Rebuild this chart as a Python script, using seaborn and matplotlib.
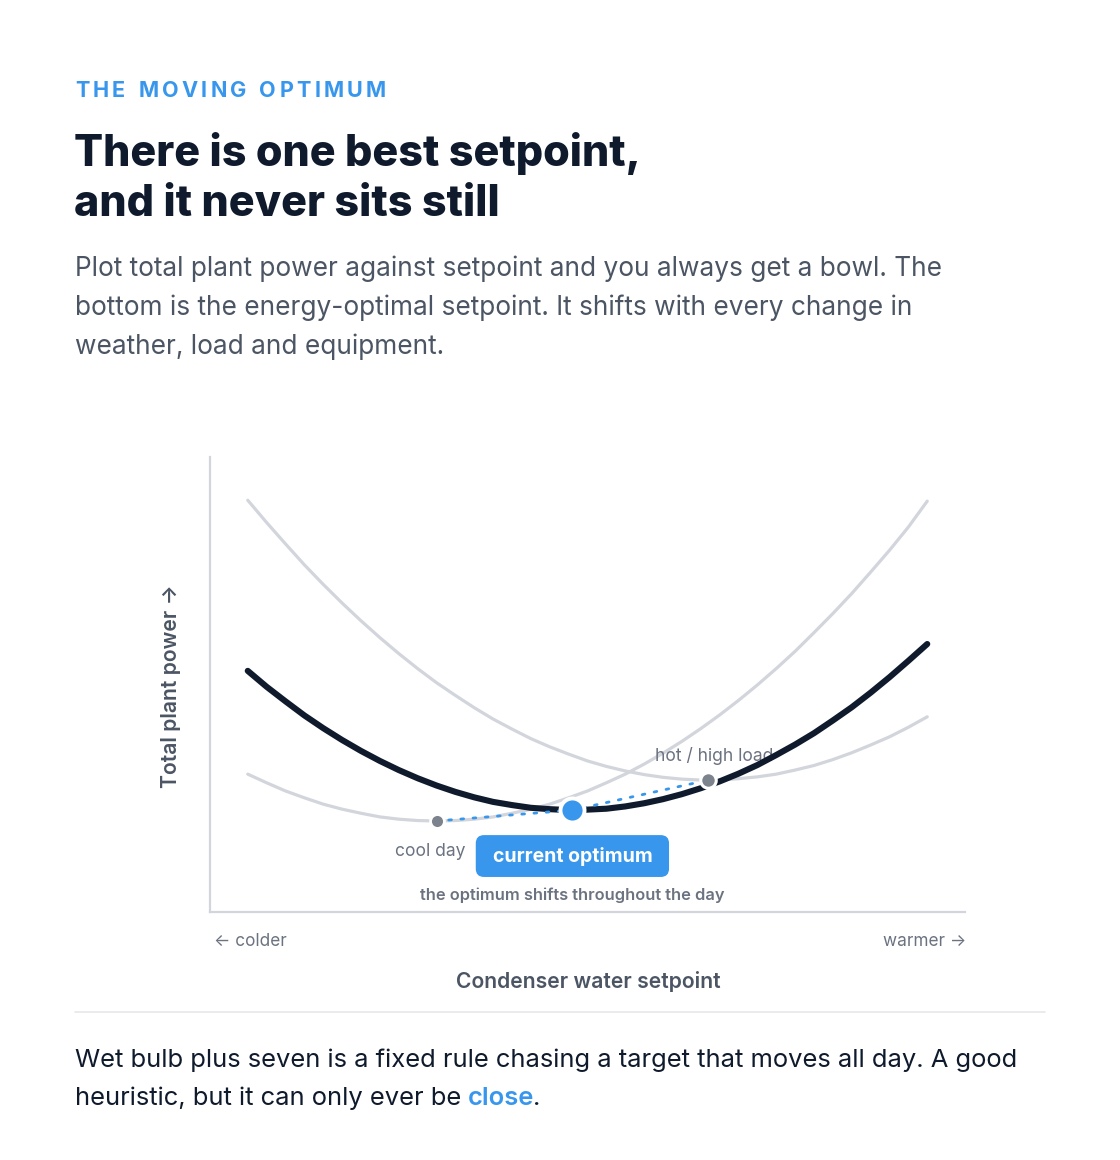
import matplotlib
matplotlib.use("Agg")
import matplotlib.pyplot as plt
from matplotlib.patches import FancyBboxPatch
import seaborn as sns
import pandas as pd

# ---------------- data ----------------
setpoint = [5, 7.5, 10, 12.5, 15, 17.5, 20, 22.5, 25, 27.5, 30, 32.5, 35, 37.5, 40, 42.5,
            45, 47.5, 50, 52.5, 55, 57.5, 60, 62.5, 65, 67.5, 70, 72.5, 75, 77.5, 80, 82.5,
            85, 87.5, 90, 92.5, 95]
power_cool = [30.3, 28.4, 26.6, 25.1, 23.7, 22.6, 21.7, 20.9, 20.4, 20.1, 20.0, 20.1, 20.4,
              20.9, 21.7, 22.6, 23.7, 25.1, 26.6, 28.4, 30.3, 32.5, 34.9, 37.5, 40.3, 43.3,
              46.5, 49.9, 53.5, 57.3, 61.4, 65.6, 70.0, 74.7, 79.5, 84.6, 90.3]
power_now = [53.0, 49.5, 46.3, 43.2, 40.4, 37.8, 35.4, 33.2, 31.2, 29.4, 27.8, 26.4, 25.2,
             24.2, 23.5, 22.9, 22.6, 22.4, 22.5, 22.7, 23.2, 23.9, 24.8, 25.9, 27.2, 28.7,
             30.4, 32.3, 34.5, 36.8, 39.3, 42.1, 45.0, 48.2, 51.6, 55.2, 58.9]
power_hot = [90.5, 85.6, 80.9, 76.3, 72.0, 67.9, 64.0, 60.3, 56.8, 53.5, 50.4, 47.6, 44.9,
             42.4, 40.2, 38.1, 36.3, 34.7, 33.2, 32.0, 31.0, 30.2, 29.6, 29.2, 29.0, 29.0,
             29.3, 29.7, 30.3, 31.2, 32.2, 33.5, 35.0, 36.7, 38.5, 40.6, 42.9]

optimum_labels = ["cool day", "current optimum", "hot / high load"]
optimum_x = [30, 48, 66]
optimum_y = [20.0, 22.4, 29.0]

eyebrow = "THE MOVING OPTIMUM"
title_lines = ["There is one best setpoint,", "and it never sits still"]
subtitle_lines = [
    "Plot total plant power against setpoint and you always get a bowl. The",
    "bottom is the energy-optimal setpoint. It shifts with every change in",
    "weather, load and equipment.",
]
footer_line1 = "Wet bulb plus seven is a fixed rule chasing a target that moves all day. A good"
footer_line2a = "heuristic, but it can only ever be"
footer_line2b = "close"
footer_line2c = "."
x_label = "Condenser water setpoint"
y_label = "Total plant power \u2192"
x_left_hint = "\u2190 colder"
x_right_hint = "warmer \u2192"
shift_note = "the optimum shifts throughout the day"

# ---------------- style ----------------
BLUE = "#3897ec"
NAVY = "#0f1b2d"
LIGHT = "#d2d5db"
GRAY_TXT = "#6b7280"
DARK_GRAY = "#4b5563"
MARK_GRAY = "#7d838d"

sns.set_theme(style="white")
plt.rcParams["font.family"] = ["Inter", "DejaVu Sans"]

W, H = 1120, 1160
fig = plt.figure(figsize=(W / 100, H / 100), dpi=100)
fig.patch.set_facecolor("white")


def fx(px):
    return px / W


def fy(py):
    return 1 - py / H


ax = fig.add_axes([fx(210), fy(912), fx(965) - fx(210), fy(457) - fy(912)])
ax.set_xlim(0, 100)
ax.set_ylim(0, 100)
ax.set_facecolor("white")

curves = pd.DataFrame({"setpoint": setpoint, "cool": power_cool, "now": power_now, "hot": power_hot})

sns.lineplot(data=curves, x="setpoint", y="cool", ax=ax, color=LIGHT, lw=2.3,
             solid_capstyle="round", solid_joinstyle="round", zorder=2)
sns.lineplot(data=curves, x="setpoint", y="hot", ax=ax, color=LIGHT, lw=2.3,
             solid_capstyle="round", solid_joinstyle="round", zorder=2)
sns.lineplot(data=curves, x="setpoint", y="now", ax=ax, color=NAVY, lw=4.4,
             solid_capstyle="round", solid_joinstyle="round", zorder=3)

opt = pd.DataFrame({"x": optimum_x, "y": optimum_y, "label": optimum_labels})
sns.lineplot(data=opt, x="x", y="y", ax=ax, color=BLUE, lw=2.0,
             linestyle=(0, (1, 3.4)), dash_capstyle="round", zorder=4)

sns.scatterplot(data=opt.iloc[[0]], x="x", y="y", ax=ax, s=100, color=MARK_GRAY,
                edgecolor="white", linewidth=2, zorder=6)
sns.scatterplot(data=opt.iloc[[2]], x="x", y="y", ax=ax, s=125, color=MARK_GRAY,
                edgecolor="white", linewidth=2.2, zorder=6)
sns.scatterplot(data=opt.iloc[[1]], x="x", y="y", ax=ax, s=300, color=BLUE,
                edgecolor="white", linewidth=2.8, zorder=7)

for s in ["top", "right"]:
    ax.spines[s].set_visible(False)
for s in ["left", "bottom"]:
    ax.spines[s].set_color(LIGHT)
    ax.spines[s].set_linewidth(1.6)
ax.set_xticks([])
ax.set_yticks([])
ax.set_xlabel("")
ax.set_ylabel("")

ax.annotate(optimum_labels[0], xy=(optimum_x[0], optimum_y[0]), xytext=(29, -30),
            textcoords="offset pixels", ha="right", va="center",
            fontsize=12.6, color=GRAY_TXT, zorder=8)
ax.annotate(optimum_labels[2], xy=(optimum_x[2], optimum_y[2]), xytext=(6, 24),
            textcoords="offset pixels", ha="center", va="center",
            fontsize=12.6, color=GRAY_TXT, zorder=2.5)

box = FancyBboxPatch((35.2, 7.7), 60.8 - 35.2, 16.9 - 7.7,
                     boxstyle="round,pad=0,rounding_size=1.1", mutation_aspect=1.66,
                     facecolor=BLUE, edgecolor="none", zorder=8)
ax.add_patch(box)
ax.text(48, 12.3, optimum_labels[1], ha="center", va="center", fontsize=14,
        fontweight="bold", color="white", zorder=9)
ax.text(48, 3.7, shift_note, ha="center", va="center", fontsize=11.8,
        fontweight="semibold", color=GRAY_TXT, zorder=8)

fig.text(fx(214), fy(942), x_left_hint, ha="left", va="center", fontsize=12.4, color=GRAY_TXT)
fig.text(fx(966), fy(942), x_right_hint, ha="right", va="center", fontsize=12.4, color=GRAY_TXT)
fig.text(fx(588), fy(981), x_label, ha="center", va="center", fontsize=15.2,
         fontweight="semibold", color=DARK_GRAY)
fig.text(fx(171), fy(686), y_label, ha="center", va="center", rotation=90, fontsize=15.2,
         fontweight="semibold", color=DARK_GRAY)

renderer = fig.canvas.get_renderer()

xpos = 75
for ch in eyebrow:
    t = fig.text(fx(xpos), fy(97), ch, ha="left", va="baseline", fontsize=15.6,
                 fontweight="bold", color=BLUE)
    if ch == " ":
        adv = 6.5
    else:
        adv = t.get_window_extent(renderer).width
    xpos += adv + 3.3

for i, line in enumerate(title_lines):
    fig.text(fx(74), fy(166 + 50 * i), line, ha="left", va="baseline", fontsize=31,
             fontweight="heavy", color=NAVY)

for i, line in enumerate(subtitle_lines):
    fig.text(fx(75), fy(276 + 39 * i), line, ha="left", va="baseline", fontsize=18.9,
             color=DARK_GRAY)

fig.add_artist(plt.Line2D([fx(75), fx(1045)], [fy(1012), fy(1012)], color="#e5e7eb", lw=1.2))

fig.text(fx(75), fy(1067), footer_line1, ha="left", va="baseline", fontsize=18.4, color=NAVY)
t1 = fig.text(fx(75), fy(1105), footer_line2a, ha="left", va="baseline", fontsize=18.4, color=NAVY)
x2 = 75 + t1.get_window_extent(renderer).width + 7
t2 = fig.text(fx(x2), fy(1105), footer_line2b, ha="left", va="baseline", fontsize=18.4,
              fontweight="semibold", color=BLUE)
x3 = x2 + t2.get_window_extent(renderer).width - 2
fig.text(fx(x3), fy(1105), footer_line2c, ha="left", va="baseline", fontsize=18.4, color=NAVY)

fig.savefig("out.png", dpi=100, facecolor="white")
